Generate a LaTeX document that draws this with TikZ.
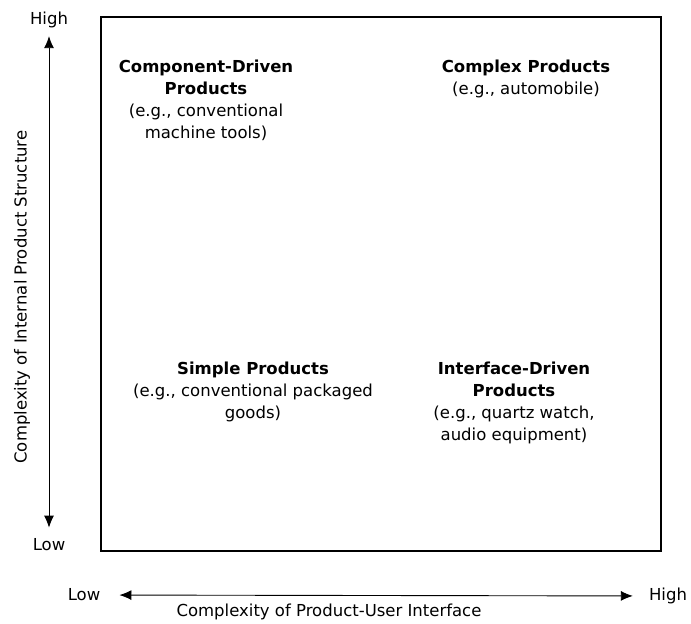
\documentclass[tikz,border=0pt]{standalone}
\usepackage{fontspec}
\setmainfont{DejaVu Sans}
\usepackage{tikz}
\usetikzlibrary{arrows.meta,positioning}
\tikzset{
  quad/.style={ align=center, font=\fontsize{16.5}{22}\selectfont }
}
\tikzset{
  axislbl/.style={ inner sep=2pt, font=\fontsize{16.5}{18}\selectfont }
}
\tikzset{
  axisarr/.style={ {Latex[length=12pt,width=10pt]}-{Latex[length=12pt,width=10pt]}, line width=0.9pt }
}

\begin{document}
\begin{tikzpicture}[x=1pt,y=-1pt]
      \useasboundingbox (0,0) rectangle (691,624);

      % the matrix frame
      \draw[line width=1.5pt] (101,17) rectangle (661,551);

      \node[quad] (comp) at (206,100) {\textbf{Component-Driven}\\\textbf{Products}\\(e.g., conventional\\machine tools)};
      \node[quad] (cplx) at (526,79) {\textbf{Complex Products}\\(e.g., automobile)};
      \node[quad] (simp) at (253,392) {\textbf{Simple Products}\\(e.g., conventional packaged\\goods)};
      \node[quad] (intf) at (514,403) {\textbf{Interface-Driven}\\\textbf{Products}\\(e.g., quartz watch,\\audio equipment)};

      % vertical axis
      \node[axislbl] (vhigh) at (49,20) {High};
      \node[axislbl] (vlow) at (49,545) {Low};
      \draw[axisarr, shorten <=6pt, shorten >=9pt] (vhigh) -- (vlow);
      \node[axislbl, rotate=90] (vlbl) at (22,297) {Complexity of Internal Product Structure};

      % horizontal axis
      \node[axislbl] (hlow) at (84,595) {Low};
      \node[axislbl] (hhigh) at (668,596) {High};
      \draw[axisarr, shorten <=17pt, shorten >=14pt] (hlow) -- (hhigh);
      \node[axislbl] (hlbl) at (329,612) {Complexity of Product-User Interface};
    \end{tikzpicture}
\end{document}
